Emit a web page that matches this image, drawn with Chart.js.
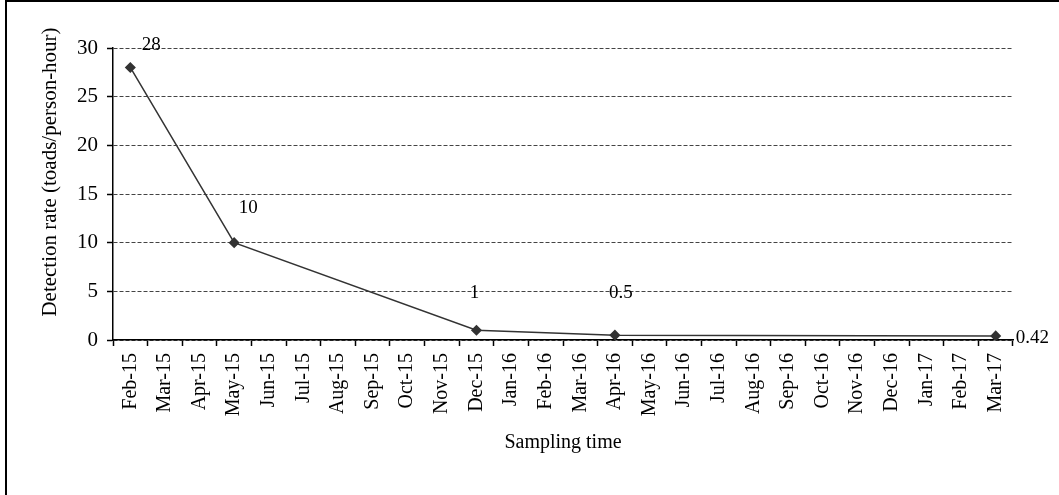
<!DOCTYPE html>
<html>
<head>
<meta charset="utf-8">
<script src="https://cdn.jsdelivr.net/npm/chart.js@4/dist/chart.umd.min.js"></script>
<style>
  html, body { margin: 0; padding: 0; background: #fff; }
  #wrap { width: 1059px; height: 495px; position: relative; }
</style>
</head>
<body>
<div id="wrap"><canvas id="chart"></canvas></div>
<script>
// months on the x axis
const months = ["Feb-15", "Mar-15", "Apr-15", "May-15", "Jun-15", "Jul-15", "Aug-15", "Sep-15",
    "Oct-15", "Nov-15", "Dec-15", "Jan-16", "Feb-16", "Mar-16", "Apr-16", "May-16", "Jun-16",
    "Jul-16", "Aug-16", "Sep-16", "Oct-16", "Nov-16", "Dec-16", "Jan-17", "Feb-17", "Mar-17"];

// detection rate, only sampled months have a value
const detectionRate = [28, null, null, 10, null, null, null, null,
    null, null, 1, null, null, null, 0.5, null, null,
    null, null, null, null, null, null, null, null, 0.42];

const yTicks = [0, 5, 10, 15, 20, 25, 30];

const FONT = "'Liberation Serif', 'Times New Roman', serif";

// label offsets from each point (style only), like Excel placed them
const labelOffsets = {
    0: { dx: 21, dy: -22, align: "center" },
    3: { dx: 14, dy: -35, align: "center" },
    10: { dx: -2, dy: -37, align: "center" },
    14: { dx: 6, dy: -42, align: "center" },
    25: { dx: 20, dy: 2, align: "left" }
};

// frame, y title and point labels
const extrasPlugin = {
    id: "extras",
    afterDraw(chart) {
        const c = chart.ctx;
        c.save();
        c.fillStyle = "#000";
        c.fillRect(5, 0, 2, 495);
        c.fillRect(5, 0, 1054, 2);

        // y axis title
        c.font = "21px " + FONT;
        c.textAlign = "center";
        c.textBaseline = "middle";
        c.translate(50, 172);
        c.rotate(-Math.PI / 2);
        c.fillText("Detection rate (toads/person-hour)", 0, 0);
        c.restore();

        // value labels
        c.save();
        c.font = "19px " + FONT;
        c.fillStyle = "#000";
        c.textBaseline = "middle";
        const meta = chart.getDatasetMeta(0);
        meta.data.forEach((pt, i) => {
            const v = detectionRate[i];
            if (v === null) return;
            const o = labelOffsets[i] || { dx: 0, dy: -20, align: "center" };
            c.textAlign = o.align;
            c.fillText(String(v), pt.x + o.dx, pt.y + o.dy);
        });
        c.restore();
    }
};

const ctx = document.getElementById("chart").getContext("2d");

new Chart(ctx, {
    type: "line",
    data: {
        labels: months,
        datasets: [{
            data: detectionRate,
            spanGaps: true,
            borderColor: "#333",
            borderWidth: 1.5,
            pointStyle: "rectRot",
            pointRadius: 4.5,
            pointBackgroundColor: "#333",
            pointBorderColor: "#333",
            tension: 0
        }]
    },
    options: {
        responsive: true,
        maintainAspectRatio: false,
        animation: false,
        layout: { padding: { left: 8, top: 48, right: 46, bottom: 35 } },
        plugins: {
            legend: { display: false },
            tooltip: { enabled: false }
        },
        scales: {
            x: {
                type: "category",
                offset: true,
                afterFit(scale) { scale.height = 120; },
                grid: {
                    display: true,
                    drawOnChartArea: false,
                    drawTicks: true,
                    tickLength: 6,
                    tickColor: "#000",
                    tickWidth: 1.5,
                    offset: true
                },
                border: { color: "#000", width: 1.5 },
                ticks: {
                    color: "#000",
                    font: { family: FONT, size: 20 },
                    maxRotation: 90,
                    minRotation: 90,
                    autoSkip: false,
                    padding: 7
                },
                title: {
                    display: true,
                    text: "Sampling time",
                    color: "#000",
                    font: { family: FONT, size: 20 },
                    padding: { top: 0, bottom: 5 }
                }
            },
            y: {
                min: 0,
                max: 30,
                afterFit(scale) { scale.width = 105; },
                afterBuildTicks(scale) { scale.ticks = yTicks.map(v => ({ value: v })); },
                grid: {
                    color: "#444",
                    lineWidth: 1,
                    drawTicks: true,
                    tickLength: 6,
                    tickColor: "#000",
                    tickWidth: 1.5,
                    tickBorderDash: []
                },
                border: { color: "#000", width: 1.5, dash: [4, 2] },
                ticks: {
                    color: "#000",
                    font: { family: FONT, size: 21 },
                    padding: 9
                }
            }
        }
    },
    plugins: [extrasPlugin]
});
</script>
</body>
</html>
